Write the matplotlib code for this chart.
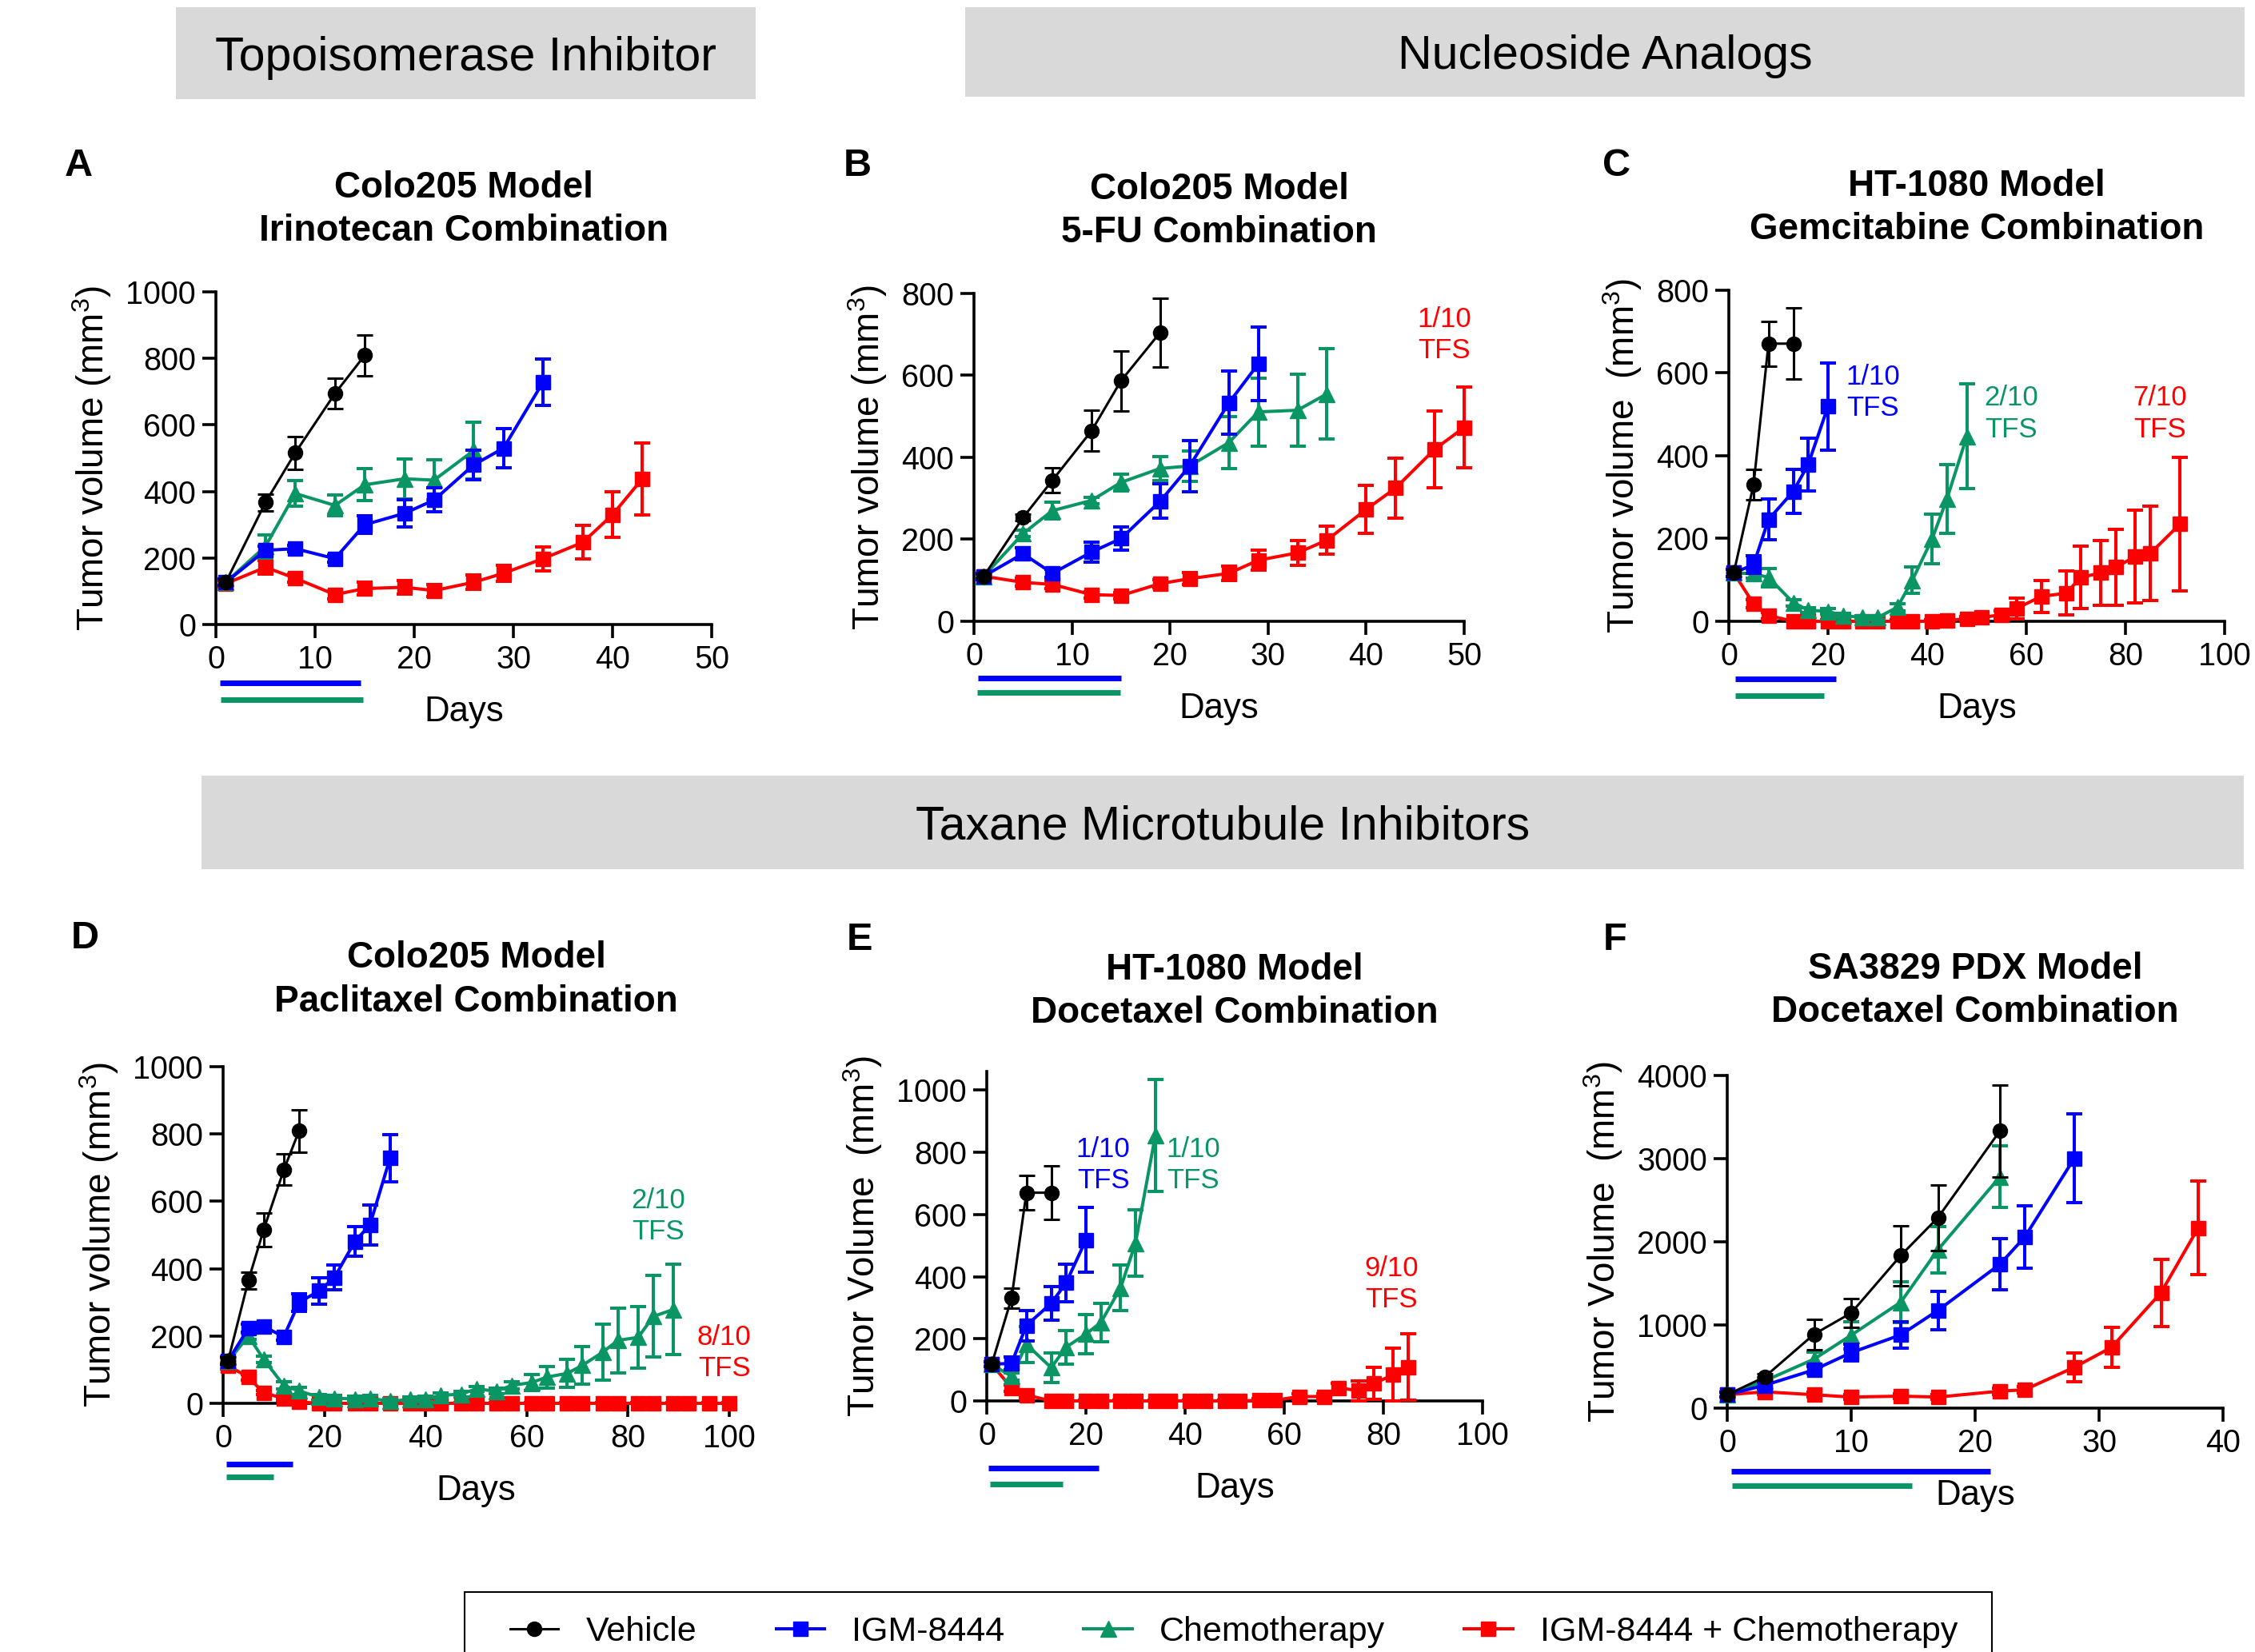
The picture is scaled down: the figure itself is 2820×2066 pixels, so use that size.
import matplotlib
matplotlib.use("Agg")
import matplotlib.pyplot as plt
import matplotlib.transforms as mtransforms
from matplotlib.patches import Rectangle
from matplotlib.lines import Line2D

plt.rcParams['font.family'] = ['Liberation Sans', 'DejaVu Sans']
plt.rcParams['mathtext.fontset'] = 'custom'
plt.rcParams['mathtext.rm'] = 'Liberation Sans'
plt.rcParams['mathtext.it'] = 'Liberation Sans:italic'
plt.rcParams['mathtext.bf'] = 'Liberation Sans:bold'
plt.rcParams['mathtext.default'] = 'regular'

# ---------------- data ----------------
series_labels = ["Vehicle", "IGM-8444", "Chemotherapy", "IGM-8444 + Chemotherapy"]

# Panel A : Colo205 / Irinotecan
A_veh_days = [1, 5, 8, 12, 15]
A_veh = [127, 367, 516, 694, 809]
A_veh_err = [10, 25, 50, 46, 62]
A_igm_days = [1, 5, 8, 12, 15, 19, 22, 26, 29, 33]
A_igm = [127, 223, 228, 198, 300, 334, 374, 480, 530, 729]
A_igm_err = [10, 12, 10, 10, 26, 40, 36, 44, 60, 70]
A_chemo_days = [1, 5, 8, 12, 15, 19, 22, 26]
A_chemo = [127, 235, 394, 358, 420, 438, 434, 523]
A_chemo_err = [10, 35, 38, 32, 48, 60, 60, 85]
A_combo_days = [1, 5, 8, 12, 15, 19, 22, 26, 29, 33, 37, 40, 43]
A_combo = [123, 172, 139, 90, 108, 112, 102, 127, 154, 198, 247, 330, 438]
A_combo_err = [10, 20, 12, 12, 20, 20, 18, 22, 25, 36, 50, 68, 108]

# Panel B : Colo205 / 5-FU
B_veh_days = [1, 5, 8, 12, 15, 19]
B_veh = [110, 253, 344, 465, 587, 705]
B_veh_err = [5, 8, 30, 50, 73, 84]
B_igm_days = [1, 5, 8, 12, 15, 19, 22, 26, 29]
B_igm = [110, 165, 117, 169, 202, 293, 379, 533, 628]
B_igm_err = [8, 15, 10, 25, 28, 42, 62, 77, 90]
B_chemo_days = [1, 5, 8, 12, 15, 19, 22, 26, 29, 33, 36]
B_chemo = [110, 214, 270, 295, 339, 373, 379, 436, 511, 515, 555]
B_chemo_err = [5, 8, 21, 8, 20, 29, 37, 64, 83, 88, 110]
B_combo_days = [1, 5, 8, 12, 15, 19, 22, 26, 29, 33, 36, 40, 43, 47, 50]
B_combo = [110, 95, 90, 65, 63, 92, 104, 117, 149, 167, 198, 273, 325, 420, 473]
B_combo_err = [8, 10, 10, 8, 8, 10, 15, 18, 25, 31, 34, 59, 73, 94, 99]

# Panel C : HT-1080 / Gemcitabine
C_veh_days = [1, 5, 8, 13]
C_veh = [117, 331, 671, 671]
C_veh_err = [8, 37, 54, 86]
C_igm_days = [1, 5, 8, 13, 16, 20]
C_igm = [117, 137, 246, 314, 379, 519]
C_igm_err = [8, 22, 49, 54, 64, 105]
C_chemo_days = [1, 5, 8, 13, 16, 20, 23, 27, 30, 34, 37, 41, 44, 48]
C_chemo = [117, 115, 106, 45, 27, 24, 14, 9, 9, 34, 99, 199, 296, 447]
C_chemo_err = [8, 10, 22, 8, 6, 6, 5, 5, 5, 8, 32, 60, 83, 127]
C_combo_days = [1, 5, 8, 13, 16, 20, 23, 27, 30, 34, 37, 41, 44, 48, 51, 55, 58,
                63, 68, 71, 75, 78, 82, 85, 91]
C_combo = [117, 42, 14, 0, 0, 0, 0, 0, 0, 0, 0, 0, 2, 6, 9, 16, 31,
           60, 68, 106, 117, 131, 156, 164, 235]
C_combo_err = [8, 10, 8, 3, 3, 3, 3, 3, 3, 3, 3, 3, 3, 5, 6, 10, 25,
               39, 53, 75, 79, 92, 112, 114, 162]

# Panel D : Colo205 / Paclitaxel
D_veh_days = [1, 5, 8, 12, 15]
D_veh = [127, 365, 515, 694, 809]
D_veh_err = [10, 25, 50, 46, 62]
D_igm_days = [1, 5, 8, 12, 15, 19, 22, 26, 29, 33]
D_igm = [127, 223, 228, 198, 300, 334, 374, 480, 530, 729]
D_igm_err = [10, 12, 10, 10, 26, 40, 36, 44, 60, 70]
D_chemo_days = [1, 5, 8, 12, 15, 19, 22, 26, 29, 33, 37, 40, 43, 47, 50, 54, 57,
                61, 64, 68, 71, 75, 78, 82, 85, 89]
D_chemo = [125, 200, 131, 53, 37, 18, 15, 13, 15, 6, 12, 13, 24, 27, 43, 36, 53,
           62, 78, 89, 113, 152, 187, 196, 258, 279]
D_chemo_err = [10, 10, 10, 10, 10, 8, 8, 8, 8, 8, 8, 8, 8, 8, 8, 8, 10,
               24, 32, 42, 56, 84, 96, 91, 121, 135]
D_combo_days = [1, 5, 8, 12, 15, 19, 22, 26, 29, 33, 37, 40, 43, 47, 50, 54, 57,
                61, 64, 68, 71, 75, 78, 82, 85, 89, 92, 96, 100]
D_combo = [111, 78, 31, 15, 4, 0, 0, 0, 0, 0, 0, 0, 0, 0, 0, 0, 0,
           0, 0, 0, 0, 0, 0, 0, 0, 0, 0, 0, 0]
D_combo_err = [8, 8, 6, 5, 3, 2, 2, 2, 2, 2, 2, 2, 2, 2, 2, 2, 2,
               2, 2, 2, 2, 2, 2, 2, 2, 2, 2, 2, 2]

# Panel E : HT-1080 / Docetaxel
E_veh_days = [1, 5, 8, 13]
E_veh = [118, 331, 670, 670]
E_veh_err = [8, 33, 55, 86]
E_igm_days = [1, 5, 8, 13, 16, 20]
E_igm = [118, 121, 243, 314, 380, 518]
E_igm_err = [8, 20, 49, 54, 61, 104]
E_chemo_days = [1, 5, 8, 13, 16, 20, 23, 27, 30, 34]
E_chemo = [118, 79, 182, 107, 173, 215, 252, 364, 508, 854]
E_chemo_err = [8, 12, 58, 47, 54, 63, 62, 73, 106, 181]
E_combo_days = [1, 5, 8, 13, 16, 20, 23, 27, 30, 34, 37, 41, 44, 48, 51, 55, 58,
                63, 68, 71, 75, 78, 82, 85]
E_combo = [118, 42, 19, 0, 0, 0, 0, 0, 0, 0, 0, 0, 0, 0, 0, 2, 2,
           14, 14, 42, 33, 56, 84, 109]
E_combo_err = [8, 10, 8, 3, 3, 3, 3, 3, 3, 3, 3, 3, 3, 3, 3, 5, 5,
               8, 8, 15, 32, 51, 87, 106]

# Panel F : SA3829 PDX / Docetaxel
F_veh_days = [0, 3, 7, 10, 14, 17, 22]
F_veh = [161, 372, 888, 1144, 1835, 2291, 3333]
F_veh_err = [30, 40, 182, 175, 361, 393, 555]
F_igm_days = [0, 3, 7, 10, 14, 17, 22, 24, 28]
F_igm = [161, 274, 460, 667, 881, 1175, 1730, 2056, 3004]
F_igm_err = [30, 40, 50, 100, 158, 229, 305, 376, 533]
F_chemo_days = [0, 3, 7, 10, 14, 17, 22]
F_chemo = [161, 326, 589, 877, 1274, 1905, 2782]
F_chemo_err = [30, 40, 88, 162, 245, 281, 369]
F_combo_days = [0, 3, 7, 10, 14, 17, 22, 24, 28, 31, 35, 38]
F_combo = [161, 196, 161, 133, 144, 133, 204, 221, 491, 730, 1389, 2168]
F_combo_err = [30, 30, 30, 30, 30, 30, 40, 40, 169, 238, 404, 562]

# treatment periods (days) : IGM-8444 bar, chemotherapy bar
A_treat = [(0.4, 14.6), (0.5, 14.8)]
B_treat = [(0.4, 15.0), (0.3, 14.9)]
C_treat = [(1.3, 21.6), (1.3, 19.2)]
D_treat = [(0.6, 13.8), (0.6, 10.0)]
E_treat = [(0.4, 22.6), (0.7, 15.3)]
F_treat = [(0.35, 21.2), (0.4, 14.9)]

# tumor-free survivor annotations: (text, day, volume, series index)
B_tfs = [("1/10\nTFS", 48, 699, 3)]
C_tfs = [("1/10\nTFS", 29, 553, 1), ("2/10\nTFS", 57, 501, 2), ("7/10\nTFS", 87, 501, 3)]
D_tfs = [("2/10\nTFS", 86, 556, 2), ("8/10\nTFS", 99, 150, 3)]
E_tfs = [("1/10\nTFS", 23.5, 759, 1), ("1/10\nTFS", 41.7, 759, 2), ("9/10\nTFS", 81.7, 375, 3)]

# ---------------- style ----------------
W, H = 2820, 2066
COLORS = ['black', '#0000ff', '#0a9664', '#ff0000']
MARKERS = ['o', 's', '^', 's']
MSIZES = [13, 13, 14, 13]
LWS = [2.2, 2.9, 2.9, 2.9]
ZORD = [6, 5, 4, 3]


def frect(l, t, r, b):
    return [l / W, 1 - b / H, (r - l) / W, (b - t) / H]


fig = plt.figure(figsize=(W / 100, H / 100), dpi=100)

panels = [
    dict(rect=frect(270, 365, 890, 781), letter='A', lpos=(98, 207),
         title="Colo205 Model\nIrinotecan Combination",
         ylabel="Tumor volume (mm$^3$)", xmax=50, xstep=10, ymax=1000, ytop=1000, ystep=200,
         series=[(A_veh_days, A_veh, A_veh_err), (A_igm_days, A_igm, A_igm_err),
                 (A_chemo_days, A_chemo, A_chemo_err), (A_combo_days, A_combo, A_combo_err)],
         treat=A_treat, tfs=[], off=(73, 94), tpad=46),
    dict(rect=frect(1218, 367, 1831, 777), letter='B', lpos=(1072, 207),
         title="Colo205 Model\n5-FU Combination",
         ylabel="Tumor volume (mm$^3$)", xmax=50, xstep=10, ymax=800, ytop=800, ystep=200,
         series=[(B_veh_days, B_veh, B_veh_err), (B_igm_days, B_igm, B_igm_err),
                 (B_chemo_days, B_chemo, B_chemo_err), (B_combo_days, B_combo, B_combo_err)],
         treat=B_treat, tfs=B_tfs, off=(71, 89), tpad=46),
    dict(rect=frect(2162, 363, 2782, 777), letter='C', lpos=(2022, 207),
         title="HT-1080 Model\nGemcitabine Combination",
         ylabel="Tumor volume  (mm$^3$)", xmax=100, xstep=20, ymax=800, ytop=800, ystep=200,
         series=[(C_veh_days, C_veh, C_veh_err), (C_igm_days, C_igm, C_igm_err),
                 (C_chemo_days, C_chemo, C_chemo_err), (C_combo_days, C_combo, C_combo_err)],
         treat=C_treat, tfs=C_tfs, off=(72, 93), tpad=46),
    dict(rect=frect(279, 1334, 912, 1755), letter='D', lpos=(106, 1173),
         title="Colo205 Model\nPaclitaxel Combination",
         ylabel="Tumor volume (mm$^3$)", xmax=100, xstep=20, ymax=1000, ytop=1000, ystep=200,
         series=[(D_veh_days, D_veh, D_veh_err), (D_igm_days, D_igm, D_igm_err),
                 (D_chemo_days, D_chemo, D_chemo_err), (D_combo_days, D_combo, D_combo_err)],
         treat=D_treat, tfs=D_tfs, off=(76, 92), tpad=50),
    dict(rect=frect(1234, 1340, 1854, 1752), letter='E', lpos=(1075, 1175),
         title="HT-1080 Model\nDocetaxel Combination",
         ylabel="Tumor Volume  (mm$^3$)", xmax=100, xstep=20, ymax=1060, ytop=1000, ystep=200,
         series=[(E_veh_days, E_veh, E_veh_err), (E_igm_days, E_igm, E_igm_err),
                 (E_chemo_days, E_chemo, E_chemo_err), (E_combo_days, E_combo, E_combo_err)],
         treat=E_treat, tfs=E_tfs, off=(84, 104), tpad=44),
    dict(rect=frect(2160, 1345, 2780, 1761), letter='F', lpos=(2020, 1175),
         title="SA3829 PDX Model\nDocetaxel Combination",
         ylabel="Tumor Volume  (mm$^3$)", xmax=40, xstep=10, ymax=4000, ytop=4000, ystep=1000,
         series=[(F_veh_days, F_veh, F_veh_err), (F_igm_days, F_igm, F_igm_err),
                 (F_chemo_days, F_chemo, F_chemo_err), (F_combo_days, F_combo, F_combo_err)],
         treat=F_treat, tfs=[], off=(79, 97), tpad=48),
]

for p in panels:
    ax = fig.add_axes(p['rect'])
    for i, (days, vals, errs) in enumerate(p['series']):
        lower = [min(e, v) for e, v in zip(errs, vals)]
        ax.errorbar(days, vals, yerr=[lower, errs], color=COLORS[i], marker=MARKERS[i],
                    ms=MSIZES[i], lw=LWS[i], elinewidth=LWS[i], capsize=7, capthick=LWS[i],
                    zorder=ZORD[i], clip_on=False)
    ax.set_xlim(0, p['xmax'])
    ax.set_ylim(0, p['ymax'])
    ax.set_xticks(range(0, p['xmax'] + 1, p['xstep']))
    ax.set_yticks(range(0, p['ytop'] + 1, p['ystep']))
    for s in ('top', 'right'):
        ax.spines[s].set_visible(False)
    for s in ('left', 'bottom'):
        ax.spines[s].set_linewidth(2.6)
    ax.tick_params(labelsize=28.5, length=12, width=2.6, pad=6)
    ax.set_ylabel(p['ylabel'], fontsize=33, labelpad=11)
    ax.set_xlabel("Days", fontsize=31.5, labelpad=19)
    ax.set_title(p['title'], fontsize=33, fontweight='bold', pad=p['tpad'], linespacing=1.3)
    # treatment bars below the x axis
    for k, (x0, x1) in enumerate(p['treat']):
        tr = mtransforms.offset_copy(ax.get_xaxis_transform(), fig=fig, x=0,
                                     y=-p['off'][k], units='dots')
        ax.plot([x0, x1], [0, 0], transform=tr, color=COLORS[1 + k], lw=5,
                solid_capstyle='butt', clip_on=False)
    for txt, xd, yd, ci in p['tfs']:
        ax.text(xd, yd, txt, color=COLORS[ci], fontsize=25, ha='center', va='center',
                linespacing=1.25)
    fig.text(p['lpos'][0] / W, 1 - p['lpos'][1] / H, p['letter'], fontsize=35,
             fontweight='bold', ha='center', va='center')

# section headers
headers = [("Topoisomerase Inhibitor", 220, 9, 945, 124),
           ("Nucleoside Analogs", 1207, 9, 2807, 121),
           ("Taxane Microtubule Inhibitors", 252, 970, 2806, 1087)]
for txt, l, t, r, b in headers:
    fig.add_artist(Rectangle((l / W, 1 - b / H), (r - l) / W, (b - t) / H,
                             transform=fig.transFigure, facecolor='#d9d9d9',
                             edgecolor='none'))
    fig.text((l + r) / 2 / W, 1 - ((t + b) / 2 + 6) / H, txt, fontsize=42.5,
             ha='center', va='center')

# legend
handles = [Line2D([0], [0], color=COLORS[i], marker=MARKERS[i], ms=MSIZES[i], lw=LWS[i])
           for i in range(4)]
fig.legend(handles, series_labels, loc='center left', bbox_to_anchor=(638 / W, 1 - 2041 / H),
           ncol=4, frameon=False, fontsize=31, handlelength=1.4, handletextpad=0.8,
           columnspacing=2.3, borderaxespad=0, borderpad=0)
fig.add_artist(Rectangle((581 / W, -0.02), 1910 / W, (H - 1991) / H + 0.02,
                         transform=fig.transFigure, fill=False, edgecolor='black', lw=1.5))

fig.savefig("out.png", dpi=100)
